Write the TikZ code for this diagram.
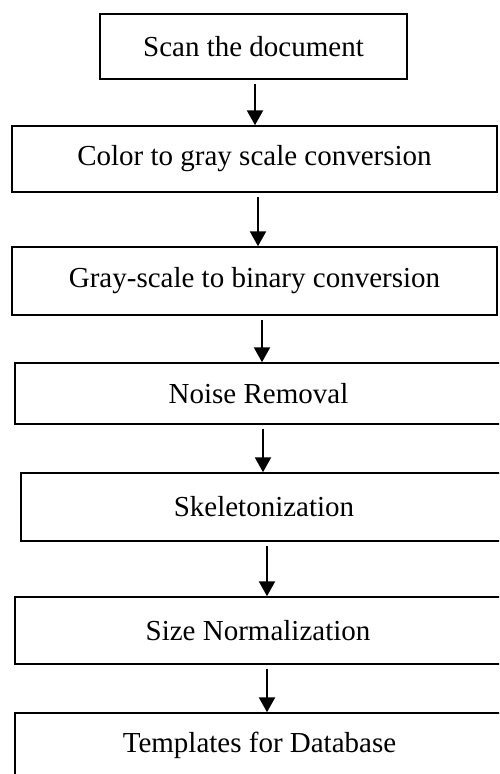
\documentclass[tikz,border=0pt]{standalone}
\usepackage{fontspec}
\setmainfont{Liberation Serif}
\usetikzlibrary{arrows.meta}
\begin{document}
\begin{tikzpicture}[x=1pt,y=-1pt,
    stage/.style={draw,line width=1.5pt,inner sep=0pt,font=\fontsize{29}{34}\selectfont},
    flow/.style={line width=2.4pt,-{Triangle[width=16pt,length=15pt]},shorten <=4pt}]
      \useasboundingbox (0,0) rectangle (499,774);
      \clip (0,0) rectangle (499,774);
      \node[stage,minimum width=307pt,minimum height=65pt] (scan) at (253.5,46.5) {Scan the document};
      \node[stage,minimum width=485pt,minimum height=66pt] (gray) at (254.5,159) {Color to gray scale conversion};
      \node[stage,minimum width=485pt,minimum height=68pt] (binary) at (254.5,281) {Gray-scale to binary conversion};
      \node[stage,minimum width=487pt,minimum height=61pt] (noise) at (258.5,393.5) {Noise Removal};
      \node[stage,minimum width=486pt,minimum height=68pt] (skel) at (264,507) {Skeletonization};
      \node[stage,minimum width=486pt,minimum height=67pt] (size) at (258,630.5) {Size Normalization};
      \node[stage,minimum width=489pt,minimum height=64pt] (tmpl) at (259.5,745) {Templates for Database};
      \begin{scope}
        \draw[flow] ([xshift=1.5pt]scan.south) -- ([xshift=1.5pt]scan.south |- gray.north);
        \draw[flow] ([xshift=3.5pt]gray.south) -- ([xshift=3.5pt]gray.south |- binary.north);
        \draw[flow] ([xshift=7.5pt]binary.south) -- ([xshift=7.5pt]binary.south |- noise.north);
        \draw[flow] ([xshift=4.5pt]noise.south) -- ([xshift=4.5pt]noise.south |- skel.north);
        \draw[flow] ([xshift=3pt]skel.south) -- ([xshift=3pt]skel.south |- size.north);
        \draw[flow] ([xshift=9pt]size.south) -- ([xshift=9pt]size.south |- tmpl.north);
      \end{scope}
    \end{tikzpicture}
\end{document}
